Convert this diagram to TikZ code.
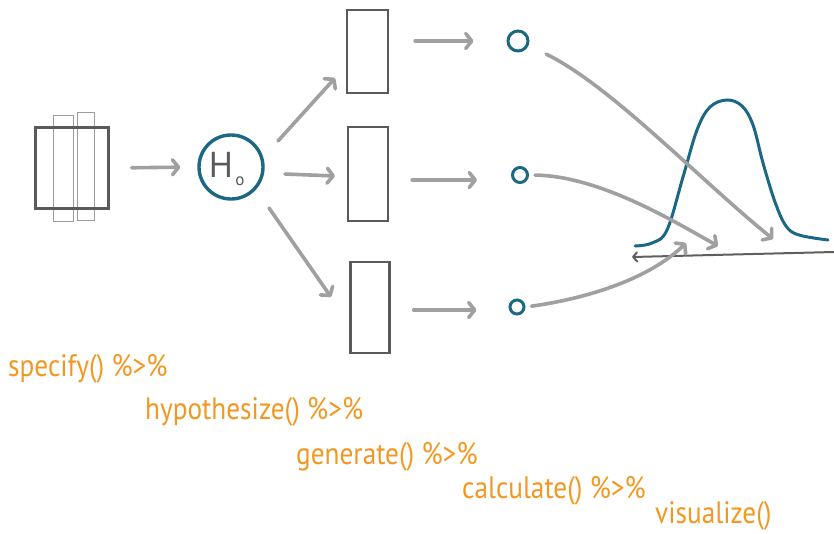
\documentclass[tikz,border=0pt]{standalone}
\usepackage{fontspec}
\setmainfont{PT Sans}
\newfontfamily\handfont[FakeStretch=0.88]{PT Sans}
\usetikzlibrary{arrows.meta}
\definecolor{teal1}{RGB}{28,104,132}
\definecolor{arrgray}{RGB}{160,160,160}
\definecolor{boxgray}{RGB}{90,90,90}
\definecolor{axgray}{RGB}{95,95,95}
\definecolor{orng}{RGB}{242,152,34}
\tikzset{
  arr/.style={draw=arrgray, line width=3.6pt, line cap=round,
    -{Straight Barb[length=6pt,width=15pt,round]}},
  boxn/.style={draw=boxgray, line width=2.4pt, minimum width=#1, inner sep=0pt},
  strip/.style={draw=boxgray!60, line width=1pt, inner sep=0pt},
  dot/.style={circle, draw=teal1, line width=3pt, inner sep=0pt, minimum size=#1},
  code/.style={text=orng, anchor=base west, inner sep=0pt, font=\handfont\fontsize{31}{33}\selectfont},
}
\begin{document}
\begin{tikzpicture}[x=1pt,y=-1pt]
\useasboundingbox (0,0) rectangle (834,533);
% data stack
\node[strip, minimum width=20pt, minimum height=106pt] (s1) at (63,168) {};
\node[strip, minimum width=17pt, minimum height=108pt] (s2) at (85.5,166) {};
\node[boxn=73pt, minimum height=81pt] (data) at (72,168) {};
% hypothesis
\node[circle, draw=teal1, line width=3.4pt, minimum size=64pt, inner sep=0pt] (H0) at (231,167) {};
\node[font=\fontsize{36}{36}\selectfont, text=boxgray, inner sep=0pt] (Hl) at (221,165) {H};
\node[font=\fontsize{17}{17}\selectfont, text=boxgray, inner sep=0pt] (Hs) at (240,181) {o};
% rectangles
\node[boxn=41pt, minimum height=83pt] (r1) at (367.5,51.5) {};
\node[boxn=40pt, minimum height=94pt] (r2) at (368,174) {};
\node[boxn=39pt, minimum height=91pt] (r3) at (370,307.5) {};
% small circles
\node[dot=20pt] (c1) at (518,41) {};
\node[dot=15pt] (c2) at (520,175) {};
\node[dot=14pt] (c3) at (517,307) {};
% arrow end points
\coordinate (u0) at (278,141);
\coordinate (u1) at (335,78);
\coordinate (m0) at (285,174);
\coordinate (m1) at (335,176);
\coordinate (l0) at (269,208);
\coordinate (l1) at (331,297);
% arrows
\draw[arr, shorten <=22pt, shorten >=17pt] (data.east) -- (H0.west);
\draw[arr] (u0) -- (u1);
\draw[arr] (m0) -- (m1);
\draw[arr] (l0) -- (l1);
\draw[arr, shorten <=26pt, shorten >=33pt] (r1.east |- c1) -- (c1);
\draw[arr, shorten <=23pt, shorten >=34pt] (r2.east |- 0,180) -- (c2.west |- 0,180);
\draw[arr, shorten <=23pt, shorten >=32pt] (r3.east |- 0,310) -- (c3.west |- 0,310);
% bell curve
\draw[teal1, line width=3pt, line cap=round] plot[smooth, tension=0.6] coordinates {
 (635,246) (652,243) (667,230) (683,177) (697,130) (710,107) (727,100) (742,106)
 (753,125) (763,163) (775,202) (786,226) (799,235) (828,240)};
% axis
\coordinate (axR) at (834,252);
\coordinate (axL) at (632,257);
\draw[axgray, line width=2pt, -{Straight Barb[length=4pt,width=9pt,round]}] (axR) -- (axL);
% curves from circles
\coordinate (e1) at (773,239);
\coordinate (e2) at (718,246);
\coordinate (e3) at (686,243);
\draw[arr] (c1.south east) ++(20,5) .. controls (610,85) and (700,180) .. (e1);
\draw[arr, shorten <=6pt] (c2.east) .. controls (600,176) and (675,222) .. (e2);
\draw[arr, shorten <=6pt] (c3.east) .. controls (590,298) and (650,278) .. (e3);
% code
\node[code] (t1) at (8,376) {specify() \%>\%};
\node[code] (t2) at (145,419) {hypothesize() \%>\%};
\node[code] (t3) at (296,464) {generate() \%>\%};
\node[code] (t4) at (462,498) {calculate() \%>\%};
\node[code] (t5) at (655,523) {visualize()};
\end{tikzpicture}
\end{document}
